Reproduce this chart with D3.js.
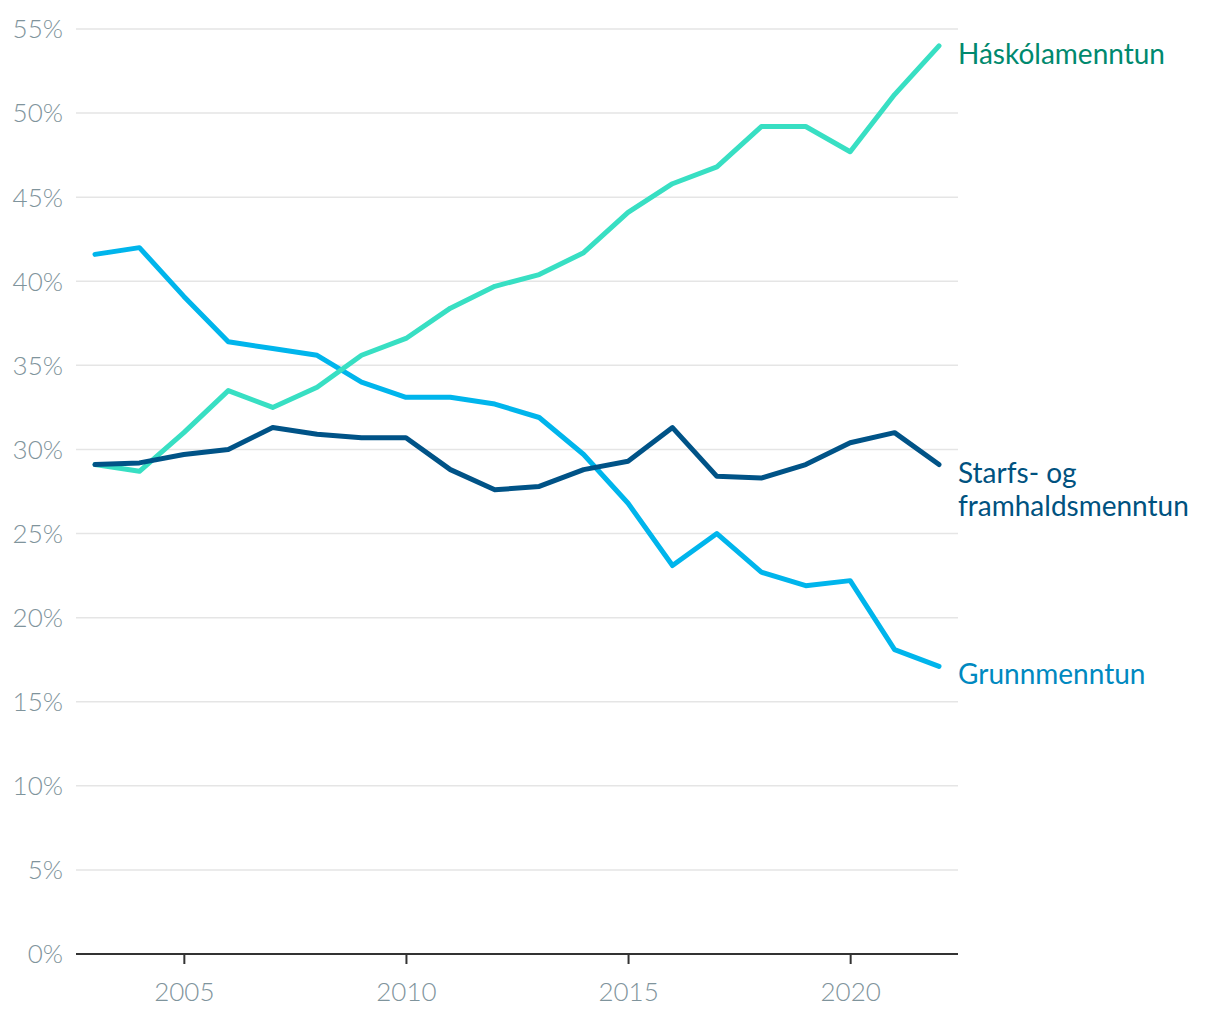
<!DOCTYPE html>
<html><head><meta charset="utf-8">
<script src="https://cdn.jsdelivr.net/npm/d3@7"></script>
<style>body{margin:0;background:#fff;}svg{display:block;}</style>
</head><body><div id="chart"></div>
<script>
const years = [2003,2004,2005,2006,2007,2008,2009,2010,2011,2012,2013,2014,2015,2016,2017,2018,2019,2020,2021,2022];
const haskola = [29.1,28.7,31.0,33.5,32.5,33.7,35.6,36.6,38.4,39.7,40.4,41.7,44.1,45.8,46.8,49.2,49.2,47.7,51.1,54.0];
const starfs = [29.1,29.2,29.7,30.0,31.3,30.9,30.7,30.7,28.8,27.6,27.8,28.8,29.3,31.3,28.4,28.3,29.1,30.4,31.0,29.1];
const grunn = [41.6,42.0,39.1,36.4,36.0,35.6,34.0,33.1,33.1,32.7,31.9,29.7,26.8,23.1,25.0,22.7,21.9,22.2,18.1,17.1];
const yTicks = [0,5,10,15,20,25,30,35,40,45,50,55];
const xTicks = [2005,2010,2015,2020];
const seriesNames = ["Háskólamenntun","Starfs- og framhaldsmenntun","Grunnmenntun"];

const W=1220,H=1020;
const svg=d3.select("#chart").append("svg").attr("width",W).attr("height",H);
const x=d3.scaleLinear().domain([2003,2022]).range([95,939]);
const y=d3.scaleLinear().domain([0,55]).range([954,29]);
const left=76,right=958;

// grid
svg.append("g").selectAll("line").data(yTicks.filter(d=>d>0)).join("line")
  .attr("x1",left).attr("x2",right).attr("y1",d=>y(d)).attr("y2",d=>y(d))
  .attr("stroke","#e5e5e5").attr("stroke-width",1.5);

// y labels
svg.append("g").selectAll("text").data(yTicks).join("text")
  .attr("x",63).attr("y",d=>y(d)).attr("dy","0.36em").attr("text-anchor","end")
  .attr("font-family","Lato").attr("font-weight",300).attr("font-size",26)
  .attr("fill","#7f949c").text(d=>d+"%");

// x axis
const xAxis=d3.axisBottom(x).tickValues(xTicks).tickFormat(d3.format("d")).tickSize(10).tickSizeOuter(0);
const gx=svg.append("g").attr("transform",`translate(0,${y(0)})`).call(xAxis);
gx.select(".domain").remove();
gx.append("line").attr("x1",left).attr("x2",right).attr("stroke","#333").attr("stroke-width",2);
gx.selectAll(".tick line").attr("stroke","#333").attr("stroke-width",2);
gx.selectAll(".tick text").attr("font-family","Lato").attr("font-weight",300).attr("font-size",26)
  .attr("fill","#7f949c").attr("y",0).attr("dy",0).attr("transform","translate(0,47)");

const line=d3.line().x((d,i)=>x(years[i])).y(d=>y(d));
const series=[
  {name:seriesNames[0],vals:haskola,color:"#38dfc3",label:"#00896e",lines:["Háskólamenntun"]},
  {name:seriesNames[1],vals:starfs,color:"#005387",label:"#00527f",lines:["Starfs- og","framhaldsmenntun"]},
  {name:seriesNames[2],vals:grunn,color:"#00b5ec",label:"#0089c0",lines:["Grunnmenntun"]}
];
const order=[2,0,1];
order.forEach(k=>{
  const s=series[k];
  svg.append("path").datum(s.vals).attr("d",line).attr("fill","none")
    .attr("stroke",s.color).attr("stroke-width",5).attr("stroke-linejoin","round").attr("stroke-linecap","round");
});
series.forEach(s=>{
  const last=s.vals[s.vals.length-1];
  const t=svg.append("text").attr("x",958).attr("y",y(last)).attr("font-family","Lato")
    .attr("font-size",28).attr("fill",s.label);
  s.lines.forEach((l,i)=>{
    t.append("tspan").attr("x",958).attr("y",y(last)+18+i*33).text(l);
  });
});
</script></body></html>
